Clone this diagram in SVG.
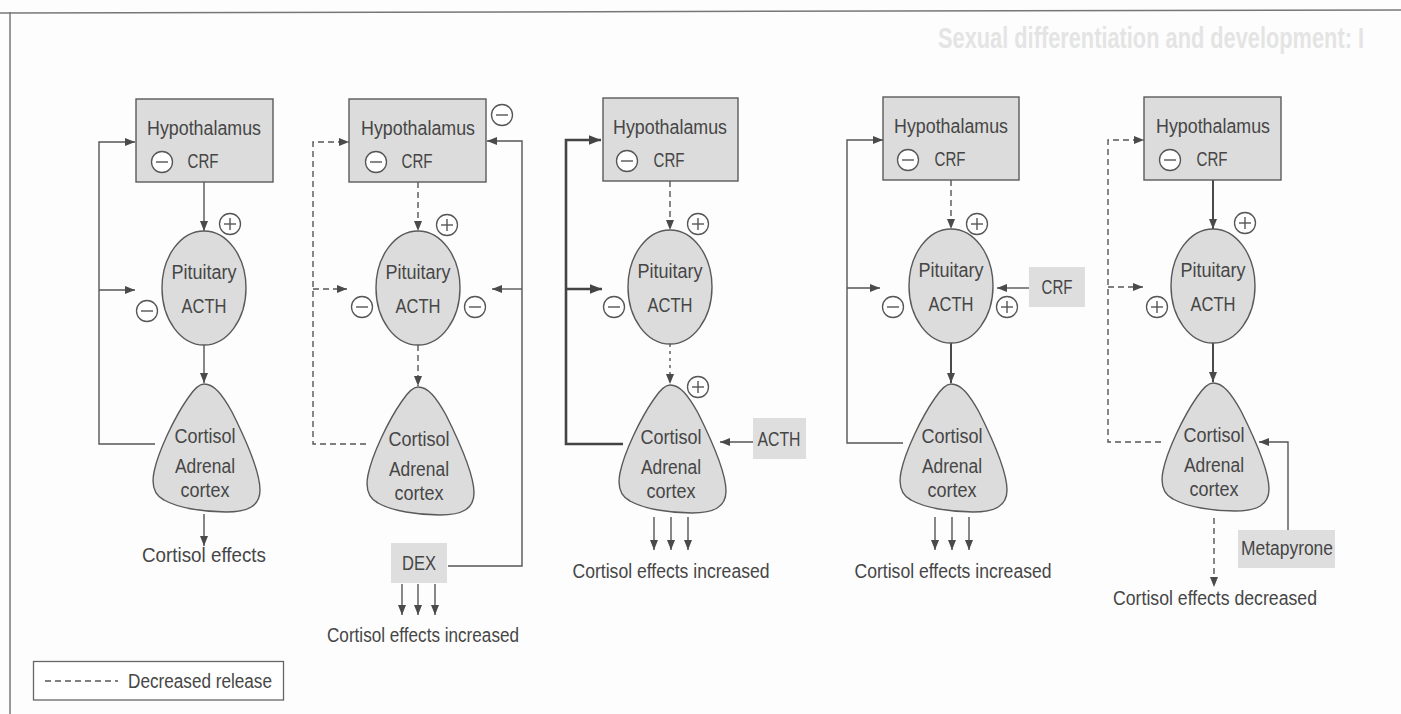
<svg xmlns="http://www.w3.org/2000/svg" xmlns:xlink="http://www.w3.org/1999/xlink" width="1401" height="714" viewBox="0 0 1401 714">
  <style>
    .t { font-family: "Liberation Sans", Arial, sans-serif; font-size: 19.5px; fill: #464646; text-anchor: middle; }
    .box { fill: #dcdcdc; stroke: #5a5a5a; stroke-width: 1.4; }
    .tag { fill: #dedede; stroke: none; }
    .organ { fill: #dcdcdc; stroke: #5a5a5a; stroke-width: 1.4; }
    .ln { fill: none; stroke: #555; stroke-width: 1.4; }
    .thick { fill: none; stroke: #444; stroke-width: 2.6; }
    .mid { fill: none; stroke: #4a4a4a; stroke-width: 2; }
    .dash { fill: none; stroke: #555; stroke-width: 1.4; stroke-dasharray: 6 4; }
    .dot { fill: none; stroke: #555; stroke-width: 1.4; stroke-dasharray: 3 4; }
    .sign { fill: #fff; stroke: #555; stroke-width: 1.3; }
    .frame { fill: none; stroke: #777; stroke-width: 1.5; }
  </style>
  <defs>
    <marker id="ah" viewBox="0 0 10 8" refX="10" refY="4" markerWidth="10" markerHeight="8" markerUnits="userSpaceOnUse" orient="auto">
      <path d="M0,0 L10,4 L0,8 Z" fill="#4a4a4a"/>
    </marker>
    <marker id="ahb" viewBox="0 0 10 8" refX="10" refY="4" markerWidth="12" markerHeight="10" markerUnits="userSpaceOnUse" orient="auto">
      <path d="M0,0 L10,4 L0,8 Z" fill="#444"/>
    </marker>
    <g id="minus">
      <circle class="sign" r="10.5"/>
      <line class="ln" x1="-6" y1="0" x2="6" y2="0"/>
    </g>
    <g id="plus">
      <circle class="sign" r="10.5"/>
      <line class="ln" x1="-6" y1="0" x2="6" y2="0"/>
      <line class="ln" x1="0" y1="-6" x2="0" y2="6"/>
    </g>
    <!-- adrenal gland outline, apex at the origin -->
    <path id="adrenal" d="M0,0 C10,0 18,10 28,28 C40,52 56,88 56,106 C56,122 44,128 22,128 C0,128 -26,124 -40,116 C-52,110 -52,98 -50,88 C-46,68 -30,34 -16,14 C-10,5 -5,0 0,0 Z"/>
  </defs>

  <rect width="1401" height="714" fill="#fdfdfd"/>

  <!-- faint heading showing through from the facing page -->
  <text x="938" y="48" font-family="'Liberation Sans', sans-serif" font-weight="bold" font-size="29" fill="#e4e4e4" textLength="426" lengthAdjust="spacingAndGlyphs">Sexual differentiation and development: I</text>

  <!-- page frame -->
  <line class="frame" x1="0" y1="13" x2="1401" y2="10"/>
  <line class="frame" x1="10" y1="12" x2="10" y2="714"/>

  <!-- connectors -->
  <g id="connectors">
    <!-- panel 1 -->
    <line class="ln" x1="204" y1="182" x2="204" y2="231" marker-end="url(#ah)"/>
    <line class="ln" x1="204" y1="345" x2="204" y2="383" marker-end="url(#ah)"/>
    <path class="ln" d="M155,444 H99 V142 H135" marker-end="url(#ah)"/>
    <line class="ln" x1="99" y1="290" x2="135" y2="290" marker-end="url(#ah)"/>
    <line class="ln" x1="204" y1="514" x2="204" y2="546" marker-end="url(#ah)"/>

    <!-- panel 2 -->
    <line class="dash" x1="418" y1="182" x2="418" y2="231" marker-end="url(#ah)"/>
    <line class="dash" x1="418" y1="345" x2="418" y2="386" marker-end="url(#ah)"/>
    <path class="dash" d="M366,444 H313 V142 H349" marker-end="url(#ah)"/>
    <line class="dash" x1="313" y1="289" x2="347" y2="289" marker-end="url(#ah)"/>
    <path class="ln" d="M448,566 H522 V141 H487" marker-end="url(#ah)"/>
    <line class="ln" x1="522" y1="289" x2="492" y2="289" marker-end="url(#ah)"/>
    <line class="ln" x1="402" y1="584" x2="402" y2="615" marker-end="url(#ah)"/>
    <line class="ln" x1="418" y1="584" x2="418" y2="615" marker-end="url(#ah)"/>
    <line class="ln" x1="435" y1="584" x2="435" y2="615" marker-end="url(#ah)"/>

    <!-- panel 3 -->
    <line class="dash" x1="670" y1="181" x2="670" y2="230" marker-end="url(#ah)"/>
    <line class="dot" x1="670" y1="344" x2="670" y2="384" marker-end="url(#ah)"/>
    <path class="thick" d="M623,444 H566 V140 H601" marker-end="url(#ahb)"/>
    <line class="thick" x1="566" y1="289" x2="602" y2="289" marker-end="url(#ahb)"/>
    <line class="ln" x1="753" y1="442" x2="720" y2="442" marker-end="url(#ah)"/>
    <line class="ln" x1="654" y1="517" x2="654" y2="550" marker-end="url(#ah)"/>
    <line class="ln" x1="671" y1="517" x2="671" y2="550" marker-end="url(#ah)"/>
    <line class="ln" x1="688" y1="517" x2="688" y2="550" marker-end="url(#ah)"/>

    <!-- panel 4 -->
    <line class="dash" x1="951" y1="180" x2="951" y2="229" marker-end="url(#ah)"/>
    <line class="mid" x1="951" y1="343" x2="951" y2="383" marker-end="url(#ah)"/>
    <path class="ln" d="M903,443 H847 V140 H883" marker-end="url(#ah)"/>
    <line class="ln" x1="847" y1="288" x2="880" y2="288" marker-end="url(#ah)"/>
    <line class="ln" x1="1029" y1="288" x2="997" y2="288" marker-end="url(#ah)"/>
    <line class="ln" x1="935" y1="517" x2="935" y2="550" marker-end="url(#ah)"/>
    <line class="ln" x1="952" y1="517" x2="952" y2="550" marker-end="url(#ah)"/>
    <line class="ln" x1="969" y1="517" x2="969" y2="550" marker-end="url(#ah)"/>

    <!-- panel 5 -->
    <line class="mid" x1="1213" y1="180" x2="1213" y2="229" marker-end="url(#ah)"/>
    <line class="mid" x1="1213" y1="343" x2="1213" y2="382" marker-end="url(#ah)"/>
    <path class="dash" d="M1161,442 H1108 V140 H1144" marker-end="url(#ah)"/>
    <line class="dash" x1="1108" y1="287" x2="1143" y2="287" marker-end="url(#ah)"/>
    <path class="ln" d="M1288,530 V442 H1259" marker-end="url(#ah)"/>
    <line class="dash" x1="1214" y1="518" x2="1214" y2="587" marker-end="url(#ah)"/>
  </g>

  <!-- panel 1: normal feedback -->
  <g id="p1-hypothalamus">
    <rect class="box" x="136" y="99" width="137" height="83"/>
    <text class="t" x="204" y="135" textLength="114" lengthAdjust="spacingAndGlyphs">Hypothalamus</text>
    <use xlink:href="#minus" x="162" y="162"/>
    <text class="t" x="203" y="168" textLength="31" lengthAdjust="spacingAndGlyphs">CRF</text>
  </g>
  <g id="p1-pituitary">
    <ellipse class="organ" cx="204" cy="288" rx="42" ry="57"/>
    <text class="t" x="204" y="279" textLength="65" lengthAdjust="spacingAndGlyphs">Pituitary</text>
    <text class="t" x="204" y="313" textLength="45" lengthAdjust="spacingAndGlyphs">ACTH</text>
    <use xlink:href="#plus" x="230" y="224"/>
    <use xlink:href="#minus" x="147" y="311"/>
  </g>
  <g id="p1-adrenal">
    <use xlink:href="#adrenal" class="organ" x="204" y="384"/>
    <text class="t" x="205" y="443" textLength="61" lengthAdjust="spacingAndGlyphs">Cortisol</text>
    <text class="t" x="205" y="473" textLength="60" lengthAdjust="spacingAndGlyphs">Adrenal</text>
    <text class="t" x="205" y="497" textLength="49" lengthAdjust="spacingAndGlyphs">cortex</text>
  </g>
  <text class="t" x="204" y="562" textLength="124" lengthAdjust="spacingAndGlyphs">Cortisol effects</text>

  <!-- panel 2: dexamethasone -->
  <g id="p2-hypothalamus">
    <rect class="box" x="349" y="99" width="137" height="83"/>
    <text class="t" x="418" y="135" textLength="114" lengthAdjust="spacingAndGlyphs">Hypothalamus</text>
    <use xlink:href="#minus" x="376" y="162"/>
    <text class="t" x="417" y="168" textLength="31" lengthAdjust="spacingAndGlyphs">CRF</text>
    <use xlink:href="#minus" x="502" y="115"/>
  </g>
  <g id="p2-pituitary">
    <ellipse class="organ" cx="418" cy="288" rx="42" ry="57"/>
    <text class="t" x="418" y="279" textLength="65" lengthAdjust="spacingAndGlyphs">Pituitary</text>
    <text class="t" x="418" y="313" textLength="45" lengthAdjust="spacingAndGlyphs">ACTH</text>
    <use xlink:href="#plus" x="447" y="225"/>
    <use xlink:href="#minus" x="362" y="307"/>
    <use xlink:href="#minus" x="475" y="307"/>
  </g>
  <g id="p2-adrenal">
    <use xlink:href="#adrenal" class="organ" x="418" y="387"/>
    <text class="t" x="419" y="446" textLength="61" lengthAdjust="spacingAndGlyphs">Cortisol</text>
    <text class="t" x="419" y="476" textLength="60" lengthAdjust="spacingAndGlyphs">Adrenal</text>
    <text class="t" x="419" y="500" textLength="49" lengthAdjust="spacingAndGlyphs">cortex</text>
  </g>
  <g id="p2-dex">
    <rect class="tag" x="391" y="543" width="56" height="40"/>
    <text class="t" x="419" y="570" textLength="34" lengthAdjust="spacingAndGlyphs">DEX</text>
  </g>
  <text class="t" x="423" y="642" textLength="192" lengthAdjust="spacingAndGlyphs">Cortisol effects increased</text>

  <!-- panel 3: ACTH given -->
  <g id="p3-hypothalamus">
    <rect class="box" x="603" y="98" width="135" height="83"/>
    <text class="t" x="670" y="134" textLength="114" lengthAdjust="spacingAndGlyphs">Hypothalamus</text>
    <use xlink:href="#minus" x="627" y="161"/>
    <text class="t" x="669" y="167" textLength="31" lengthAdjust="spacingAndGlyphs">CRF</text>
  </g>
  <g id="p3-pituitary">
    <ellipse class="organ" cx="670" cy="287" rx="42" ry="57"/>
    <text class="t" x="670" y="278" textLength="65" lengthAdjust="spacingAndGlyphs">Pituitary</text>
    <text class="t" x="670" y="312" textLength="45" lengthAdjust="spacingAndGlyphs">ACTH</text>
    <use xlink:href="#plus" x="698" y="224"/>
    <use xlink:href="#minus" x="614" y="307"/>
  </g>
  <g id="p3-adrenal">
    <use xlink:href="#adrenal" class="organ" x="670" y="385"/>
    <use xlink:href="#plus" x="698" y="387"/>
    <text class="t" x="671" y="444" textLength="61" lengthAdjust="spacingAndGlyphs">Cortisol</text>
    <text class="t" x="671" y="474" textLength="60" lengthAdjust="spacingAndGlyphs">Adrenal</text>
    <text class="t" x="671" y="498" textLength="49" lengthAdjust="spacingAndGlyphs">cortex</text>
  </g>
  <g id="p3-acth">
    <rect class="tag" x="753" y="418" width="53" height="41"/>
    <text class="t" x="779" y="446" textLength="43" lengthAdjust="spacingAndGlyphs">ACTH</text>
  </g>
  <text class="t" x="671" y="578" textLength="197" lengthAdjust="spacingAndGlyphs">Cortisol effects increased</text>

  <!-- panel 4: CRF given -->
  <g id="p4-hypothalamus">
    <rect class="box" x="883" y="97" width="136" height="83"/>
    <text class="t" x="951" y="133" textLength="114" lengthAdjust="spacingAndGlyphs">Hypothalamus</text>
    <use xlink:href="#minus" x="908" y="160"/>
    <text class="t" x="950" y="166" textLength="31" lengthAdjust="spacingAndGlyphs">CRF</text>
  </g>
  <g id="p4-pituitary">
    <ellipse class="organ" cx="951" cy="286" rx="42" ry="57"/>
    <text class="t" x="951" y="277" textLength="65" lengthAdjust="spacingAndGlyphs">Pituitary</text>
    <text class="t" x="951" y="311" textLength="45" lengthAdjust="spacingAndGlyphs">ACTH</text>
    <use xlink:href="#plus" x="977" y="224"/>
    <use xlink:href="#minus" x="893" y="307"/>
    <use xlink:href="#plus" x="1007" y="307"/>
  </g>
  <g id="p4-crf">
    <rect class="tag" x="1029" y="267" width="56" height="40"/>
    <text class="t" x="1057" y="294" textLength="31" lengthAdjust="spacingAndGlyphs">CRF</text>
  </g>
  <g id="p4-adrenal">
    <use xlink:href="#adrenal" class="organ" x="951" y="384"/>
    <text class="t" x="952" y="443" textLength="61" lengthAdjust="spacingAndGlyphs">Cortisol</text>
    <text class="t" x="952" y="473" textLength="60" lengthAdjust="spacingAndGlyphs">Adrenal</text>
    <text class="t" x="952" y="497" textLength="49" lengthAdjust="spacingAndGlyphs">cortex</text>
  </g>
  <text class="t" x="953" y="578" textLength="197" lengthAdjust="spacingAndGlyphs">Cortisol effects increased</text>

  <!-- panel 5: metapyrone -->
  <g id="p5-hypothalamus">
    <rect class="box" x="1144" y="97" width="137" height="83"/>
    <text class="t" x="1213" y="133" textLength="114" lengthAdjust="spacingAndGlyphs">Hypothalamus</text>
    <use xlink:href="#minus" x="1170" y="160"/>
    <text class="t" x="1212" y="166" textLength="31" lengthAdjust="spacingAndGlyphs">CRF</text>
  </g>
  <g id="p5-pituitary">
    <ellipse class="organ" cx="1213" cy="286" rx="42" ry="57"/>
    <text class="t" x="1213" y="277" textLength="65" lengthAdjust="spacingAndGlyphs">Pituitary</text>
    <text class="t" x="1213" y="311" textLength="45" lengthAdjust="spacingAndGlyphs">ACTH</text>
    <use xlink:href="#plus" x="1245" y="223"/>
    <use xlink:href="#plus" x="1157" y="307"/>
  </g>
  <g id="p5-adrenal">
    <use xlink:href="#adrenal" class="organ" x="1213" y="383"/>
    <text class="t" x="1214" y="442" textLength="61" lengthAdjust="spacingAndGlyphs">Cortisol</text>
    <text class="t" x="1214" y="472" textLength="60" lengthAdjust="spacingAndGlyphs">Adrenal</text>
    <text class="t" x="1214" y="496" textLength="49" lengthAdjust="spacingAndGlyphs">cortex</text>
  </g>
  <g id="p5-metapyrone">
    <rect class="tag" x="1238" y="530" width="97" height="38"/>
    <text class="t" x="1287" y="555" textLength="92" lengthAdjust="spacingAndGlyphs">Metapyrone</text>
  </g>
  <text class="t" x="1215" y="605" textLength="204" lengthAdjust="spacingAndGlyphs">Cortisol effects decreased</text>

  <!-- legend -->
  <g id="legend">
    <rect x="33.5" y="661.5" width="250" height="38.5" fill="#fff" stroke="#666" stroke-width="1.3"/>
    <line class="dash" x1="45" y1="681" x2="118" y2="681" stroke-dasharray="5 4"/>
    <text class="t" x="128" y="688" style="text-anchor:start" textLength="144" lengthAdjust="spacingAndGlyphs">Decreased release</text>
  </g>
</svg>
